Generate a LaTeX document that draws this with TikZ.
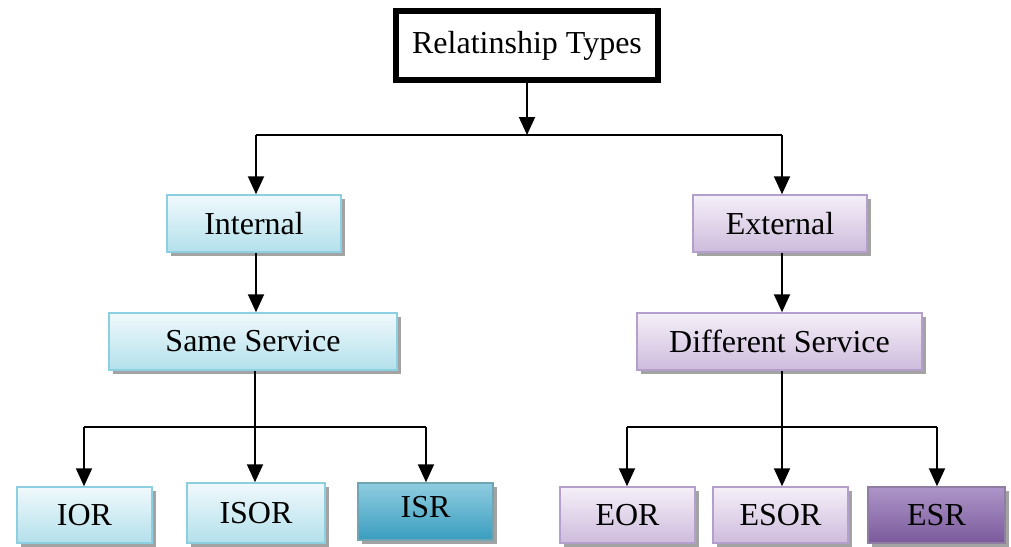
\documentclass[tikz,border=0pt]{standalone}
\usepackage{fontspec}
\setmainfont{Liberation Serif}
\usetikzlibrary{arrows.meta,shadows}
\definecolor{cyanB}{HTML}{8CCFE0}
\definecolor{cyanT}{HTML}{F0F9FC}
\definecolor{cyanM}{HTML}{B3E0EB}
\definecolor{cyanDT}{HTML}{8FCDE0}
\definecolor{cyanDB}{HTML}{3A9DBF}
\definecolor{purB}{HTML}{B49ECB}
\definecolor{purT}{HTML}{F5F0F8}
\definecolor{purM}{HTML}{CDBBDC}
\definecolor{purDT}{HTML}{AE95C8}
\definecolor{purDB}{HTML}{7A5A9C}
\tikzset{
  box/.style={rectangle, inner sep=0pt, font=\fontsize{32}{37}\selectfont, line width=1.5pt,
    drop shadow={shadow xshift=3.5pt, shadow yshift=-3.5pt, fill=black!45, opacity=0.8}},
  cy/.style={box, draw=cyanB, top color=cyanT, bottom color=cyanM},
  cyd/.style={box, draw=cyanB!80!black, top color=cyanDT, bottom color=cyanDB},
  pu/.style={box, draw=purB, top color=purT, bottom color=purM},
  pud/.style={box, draw=purB!80!black, top color=purDT, bottom color=purDB},
  arr/.style={line width=2pt, -{Triangle[width=16pt,length=18pt]}},
  ln/.style={line width=2pt}
}
\begin{document}
\begin{tikzpicture}[x=1pt,y=-1pt]
\useasboundingbox (0,0) rectangle (1011,546);
% top
\node[rectangle, draw=black, line width=6pt, fill=white, minimum width=262pt, minimum height=69pt,
  inner sep=0pt, font=\fontsize{32}{37}\selectfont] (top) at (527,45.5) {Relatinship Types};
% level 1
\node[cy, minimum width=174pt, minimum height=57pt] (int) at (254,223.5) {Internal};
\node[pu, minimum width=174pt, minimum height=57pt] (ext) at (780,223.5) {External};
% level 2
\node[cy, minimum width=288pt, minimum height=57pt] (same) at (253,341.5) {Same Service};
\node[pu, minimum width=285pt, minimum height=57pt] (diff) at (779.5,341.5) {Different Service};
% level 3
\node[cy, minimum width=135pt, minimum height=56pt] (ior) at (84.5,515) {IOR};
\node[cy, minimum width=138pt, minimum height=60pt] (isor) at (256,513) {ISOR};
\node[cyd, minimum width=135pt, minimum height=57pt, text depth=10pt] (isr) at (425.5,511.5) {ISR};
\node[pu, minimum width=135pt, minimum height=56pt] (eor) at (627.5,515) {EOR};
\node[pu, minimum width=135pt, minimum height=56pt] (esor) at (780.5,515) {ESOR};
\node[pud, minimum width=137pt, minimum height=56pt] (esr) at (936.5,515) {ESR};
% junctions
\coordinate (j0) at (527,135);
\coordinate (j0L) at (256,135);
\coordinate (j0R) at (782,135);
\coordinate (j1) at (255,427);
\coordinate (j1L) at (84,427);
\coordinate (j1R) at (426,427);
\coordinate (j2) at (782,427);
\coordinate (j2L) at (627,427);
\coordinate (j2R) at (937,427);
% connectors
\draw[arr] (top.south) -- (j0);
\draw[ln] (j0L) -- (j0R);
\draw[arr] (j0L) -- (j0L |- int.north);
\draw[arr] (j0R) -- (j0R |- ext.north);
\draw[arr] (int.south -| j0L) -- (j0L |- same.north);
\draw[arr] (ext.south -| j0R) -- (j0R |- diff.north);
\draw[ln] (same.south -| j1) -- (j1);
\draw[ln] (j1L) -- (j1R);
\draw[arr] (j1L) -- (j1L |- ior.north);
\draw[arr] (j1) -- (j1 |- isor.north);
\draw[arr] (j1R) -- (j1R |- isr.north);
\draw[ln] (diff.south -| j2) -- (j2);
\draw[ln] (j2L) -- (j2R);
\draw[arr] (j2L) -- (j2L |- eor.north);
\draw[arr] (j2) -- (j2 |- esor.north);
\draw[arr] (j2R) -- (j2R |- esr.north);
\end{tikzpicture}
\end{document}
